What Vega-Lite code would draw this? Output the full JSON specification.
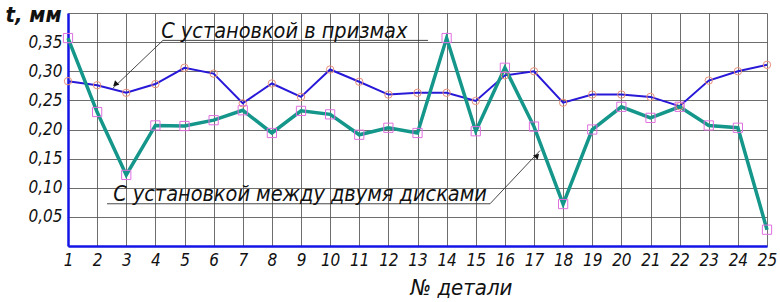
{
  "$schema": "https://vega.github.io/schema/vega-lite/v6.json",
  "width": 699,
  "height": 233,
  "autosize": {"type": "none"},
  "padding": {"left": 68, "top": 13, "right": 13, "bottom": 56},
  "background": "white",
  "config": {
    "view": {"stroke": null},
    "font": "Liberation Sans Narrow, DejaVu Sans Condensed, Roboto Condensed, Liberation Sans, sans-serif"
  },
  "datasets": {
    "pts": [
      {"n": 1, "series": "p", "t": 0.283}, {"n": 2, "series": "p", "t": 0.276}, {"n": 3, "series": "p", "t": 0.263},
      {"n": 4, "series": "p", "t": 0.278}, {"n": 5, "series": "p", "t": 0.306}, {"n": 6, "series": "p", "t": 0.296},
      {"n": 7, "series": "p", "t": 0.245}, {"n": 8, "series": "p", "t": 0.279}, {"n": 9, "series": "p", "t": 0.256},
      {"n": 10, "series": "p", "t": 0.303}, {"n": 11, "series": "p", "t": 0.282}, {"n": 12, "series": "p", "t": 0.260},
      {"n": 13, "series": "p", "t": 0.263}, {"n": 14, "series": "p", "t": 0.263}, {"n": 15, "series": "p", "t": 0.249},
      {"n": 16, "series": "p", "t": 0.293}, {"n": 17, "series": "p", "t": 0.300}, {"n": 18, "series": "p", "t": 0.246},
      {"n": 19, "series": "p", "t": 0.260}, {"n": 20, "series": "p", "t": 0.260}, {"n": 21, "series": "p", "t": 0.256},
      {"n": 22, "series": "p", "t": 0.240}, {"n": 23, "series": "p", "t": 0.284}, {"n": 24, "series": "p", "t": 0.300},
      {"n": 25, "series": "p", "t": 0.311},
      {"n": 1, "series": "d", "t": 0.357}, {"n": 2, "series": "d", "t": 0.230}, {"n": 3, "series": "d", "t": 0.122},
      {"n": 4, "series": "d", "t": 0.207}, {"n": 5, "series": "d", "t": 0.206}, {"n": 6, "series": "d", "t": 0.216},
      {"n": 7, "series": "d", "t": 0.233}, {"n": 8, "series": "d", "t": 0.194}, {"n": 9, "series": "d", "t": 0.232},
      {"n": 10, "series": "d", "t": 0.226}, {"n": 11, "series": "d", "t": 0.191}, {"n": 12, "series": "d", "t": 0.203},
      {"n": 13, "series": "d", "t": 0.194}, {"n": 14, "series": "d", "t": 0.357}, {"n": 15, "series": "d", "t": 0.197},
      {"n": 16, "series": "d", "t": 0.306}, {"n": 17, "series": "d", "t": 0.205}, {"n": 18, "series": "d", "t": 0.072},
      {"n": 19, "series": "d", "t": 0.200}, {"n": 20, "series": "d", "t": 0.239}, {"n": 21, "series": "d", "t": 0.220},
      {"n": 22, "series": "d", "t": 0.239}, {"n": 23, "series": "d", "t": 0.207}, {"n": 24, "series": "d", "t": 0.203},
      {"n": 25, "series": "d", "t": 0.028}
    ],
    "leaders": [
      {"id": "a", "k": 1, "n": 13.36, "t": 0.353},
      {"id": "a", "k": 2, "n": 4.26, "t": 0.353},
      {"id": "a", "k": 3, "n": 2.545, "t": 0.271},
      {"id": "b", "k": 1, "n": 2.34, "t": 0.0725},
      {"id": "b", "k": 2, "n": 15.49, "t": 0.0725},
      {"id": "b", "k": 3, "n": 17.21, "t": 0.164}
    ],
    "labels": [
      {"n": 4.2, "t": 0.357, "label": "С установкой в призмах"},
      {"n": 2.55, "t": 0.077, "label": "С установкой между двумя дисками"}
    ]
  },
  "data": {"name": "pts"},
  "encoding": {
    "x": {
      "field": "n",
      "type": "quantitative",
      "scale": {"domain": [1, 25], "nice": false, "zero": false},
      "axis": {
        "values": [1,2,3,4,5,6,7,8,9,10,11,12,13,14,15,16,17,18,19,20,21,22,23,24,25],
        "grid": true,
        "gridColor": "#555555",
        "gridWidth": 1,
        "gridOpacity": 0.85,
        "domainColor": "#1414e6",
        "domainWidth": 2.5,
        "ticks": false,
        "labelPadding": 6,
        "labelFontSize": 17,
        "labelFontStyle": "italic",
        "labelColor": "#111111",
        "labelFlush": false,
        "title": "№ детали",
        "titleFontSize": 22,
        "titleFontStyle": "italic",
        "titleFontWeight": "normal",
        "titleColor": "#111111",
        "titleX": 393,
        "titleY": 48,
        "titleBaseline": "alphabetic",
        "titleAlign": "center"
      }
    },
    "y": {
      "field": "t",
      "type": "quantitative",
      "scale": {"domain": [0, 0.4], "nice": false, "zero": true},
      "axis": {
        "values": [0, 0.05, 0.1, 0.15, 0.2, 0.25, 0.3, 0.35, 0.4],
        "format": ".2f",
        "labelExpr": "(datum.value < 0.01 || datum.value > 0.39) ? '' : replace(datum.label, '.', ',')",
        "grid": true,
        "gridColor": "#555555",
        "gridWidth": 1,
        "gridOpacity": 0.85,
        "domainColor": "#1414e6",
        "domainWidth": 2.5,
        "ticks": false,
        "labelPadding": 6,
        "labelFontSize": 17,
        "labelFontStyle": "italic",
        "labelColor": "#111111",
        "labelFlush": false,
        "title": "t, мм",
        "titleAngle": 0,
        "titleFontSize": 22,
        "titleFontStyle": "italic",
        "titleFontWeight": "bold",
        "titleColor": "#111111",
        "titleX": -63,
        "titleY": 8,
        "titleAlign": "left",
        "titleBaseline": "alphabetic"
      }
    }
  },
  "layer": [
    {
      "transform": [{"filter": "datum.series == 'p'"}],
      "mark": {"type": "line", "color": "#2818d8", "strokeWidth": 2}
    },
    {
      "transform": [{"filter": "datum.series == 'd'"}],
      "mark": {"type": "line", "color": "#14968a", "strokeWidth": 3.5}
    },
    {
      "transform": [{"filter": "datum.series == 'p'"}],
      "mark": {"type": "point", "shape": "circle", "filled": false, "stroke": "#e8907a", "strokeWidth": 1, "size": 55, "opacity": 1}
    },
    {
      "transform": [{"filter": "datum.series == 'd'"}],
      "mark": {"type": "point", "shape": "square", "filled": false, "stroke": "#e070e0", "strokeWidth": 1, "size": 85, "opacity": 1}
    },
    {
      "data": {"name": "leaders"},
      "mark": {"type": "line", "color": "#333333", "strokeWidth": 0.9},
      "encoding": {
        "detail": {"field": "id", "type": "nominal"},
        "order": {"field": "k", "type": "quantitative"}
      }
    },
    {
      "data": {"values": [{"n": 2.62, "t": 0.2775}]},
      "mark": {"type": "point", "shape": "triangle-up", "filled": true, "color": "#111111", "size": 40, "angle": 227, "opacity": 1}
    },
    {
      "data": {"values": [{"n": 17.11, "t": 0.155}]},
      "mark": {"type": "point", "shape": "triangle-up", "filled": true, "color": "#111111", "size": 40, "angle": 43, "opacity": 1}
    },
    {
      "data": {"name": "labels"},
      "mark": {"type": "text", "align": "left", "baseline": "alphabetic", "fontSize": 21.5, "fontStyle": "italic", "color": "#111111"},
      "encoding": {"text": {"field": "label", "type": "nominal"}}
    }
  ]
}
